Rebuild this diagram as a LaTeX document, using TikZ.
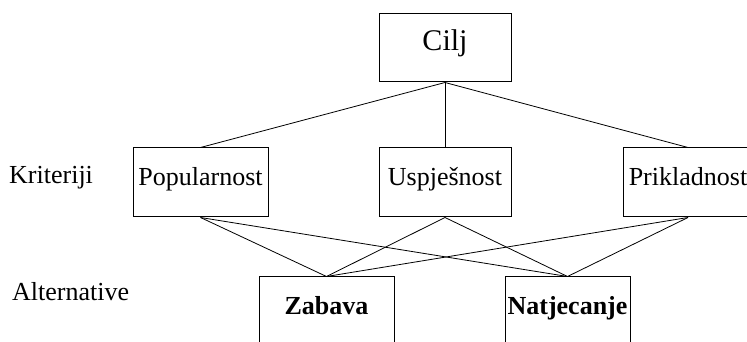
\documentclass[tikz,border=0pt]{standalone}
\usepackage{fontspec}
\setmainfont{Liberation Serif}
\begin{document}
\begin{tikzpicture}[x=1pt,y=1pt,
  boxn/.style={draw, line width=1pt, inner sep=0pt, minimum height=69pt,
    font=\fontsize{26}{30}\selectfont, text height=0.7em, text depth=0pt},
  altn/.style={boxn, font=\fontsize{26}{30}\selectfont\bfseries},
  goaln/.style={boxn, font=\fontsize{30}{34}\selectfont, text height=0.6em},
  lbl/.style={inner sep=0pt, font=\fontsize{26}{30}\selectfont},
  conn/.style={line width=0.8pt}]
\clip (0,0) rectangle (747,342);
\node[goaln, minimum width=132pt, minimum height=68pt] (cilj) at (445,294) {Cilj};
\node[boxn, minimum width=135pt] (pop) at (200.5,159.5) {Popularnost};
\node[boxn, minimum width=132pt] (usp) at (445,159.5) {Uspješnost};
\node[boxn, minimum width=130pt] (pri) at (688,159.5) {Prikladnost};
\node[altn, minimum width=135pt] (zab) at (326.5,30.5) {Zabava};
\node[altn, minimum width=125pt] (nat) at (567.5,30.5) {Natjecanje};
\node[lbl, anchor=base west] (krit) at (9,158) {Kriteriji};
\node[lbl, anchor=base west] (alt) at (12,41) {Alternative};
\foreach \c in {pop,usp,pri}{
  \draw[conn] (cilj.south) -- (\c.north);
  \draw[conn] (\c.south) -- (zab.north);
  \draw[conn] (\c.south) -- (nat.north);
}
\end{tikzpicture}
\end{document}
